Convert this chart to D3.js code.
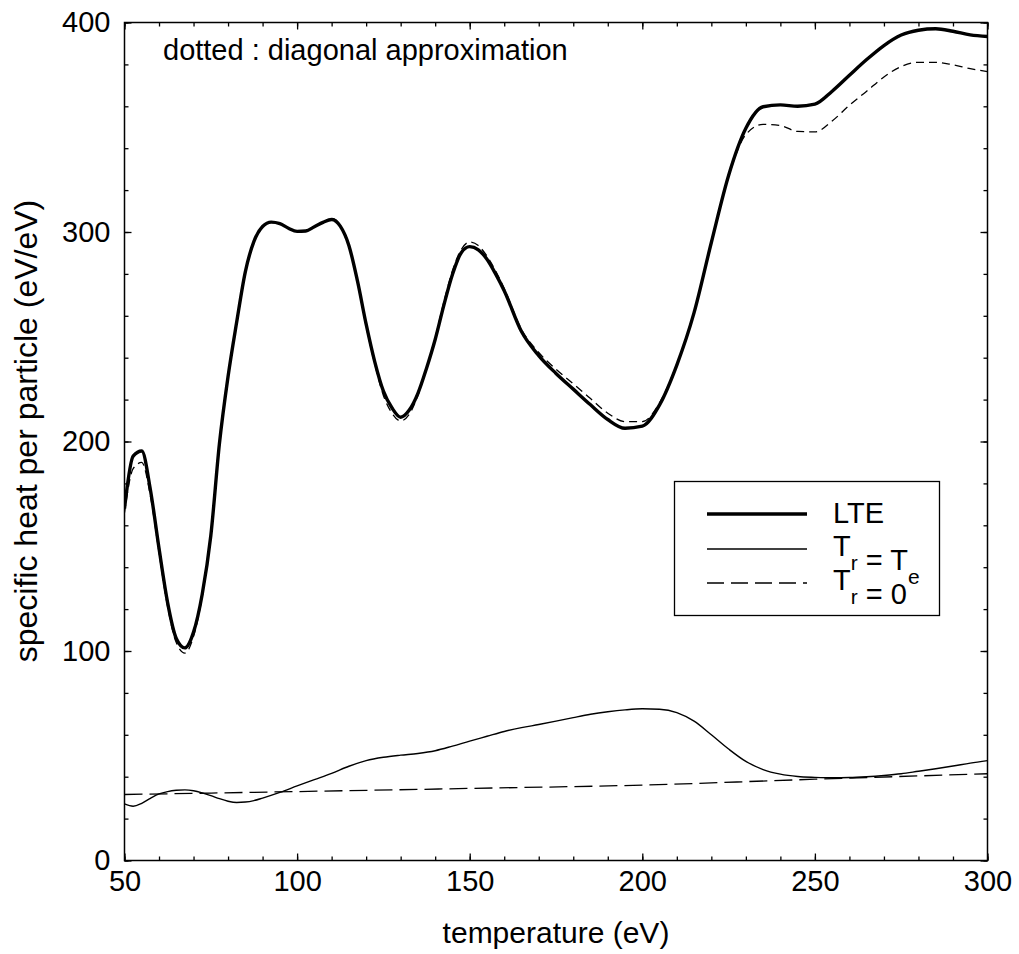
<!DOCTYPE html>
<html><head><meta charset="utf-8">
<script src="https://cdn.jsdelivr.net/npm/d3@7"></script>
<style>
body{margin:0;background:#fff}
text{font-family:"Liberation Sans",Arial,Helvetica,sans-serif;fill:#000}
</style>
</head><body>
<svg id="chart" width="1019" height="954"></svg>
<script>
// ---------- data ----------
const temperature = [50,52.5,55,57.5,60,62.5,65,67.5,70,72.5,75,77.5,80,82.5,85,87.5,90,92.5,95,97.5,
  100,102.5,105,107.5,110,112.5,115,117.5,120,122.5,125,127.5,130,132.5,135,137.5,140,142.5,145,147.5,
  150,152.5,155,157.5,160,165,170,175,180,185,190,195,200,205,210,215,220,225,230,235,240,245,250,255,
  260,265,270,275,280,285,290,295,300];
const lte = [168,193,195.5,177,149,123,106,101.5,109,127,155,199,231,257,281,295.5,302.6,304.7,304,301.8,
  300.3,300.5,302.5,304.6,306,302.8,293.6,276.5,256,238,224,216,211.6,215,223,235,248.7,265,279.7,290,
  293,291.5,287,280,272,252.5,241,232.5,225,217.5,210.5,206.3,207.3,217.5,236.5,261.5,295,327,349.5,359.8,
  360.7,360,361,367.2,374.8,382.3,389,394,396.3,397,395.8,394.1,393.3];
const diagonal = [166,187,190,174,147,121,104,99,107,126,155,199,231,257,281,295.5,302.6,304.7,304,301.8,
  300.3,300.5,302.5,304.6,306.5,303,293.6,276,255,237,222,213.5,209.8,213,222,235,249.5,266.5,281.5,291.5,
  295.2,293.5,288.5,281.5,273,253.5,242.5,234.5,227.5,220.5,213.5,209.5,209.5,218.5,237,262,294.5,326.5,346.5,351.4,
  350.8,348,347.8,353,360.5,367.2,374,379,381,381,379.8,378,376.6];

const temperatureLow = [50,52.5,55,57.5,60,62.5,65,67.5,70,72.5,75,77.5,80,82.5,85,87.5,90,95,100,105,110,115,
  120,125,130,135,140,145,150,155,160,165,170,175,180,185,190,195,200,205,210,215,220,225,230,235,240,245,
  250,255,260,265,270,275,280,285,290,295,300];
const trEqualTe = [27.0,25.9,27.3,29.7,31.8,32.9,33.5,33.7,33.3,32.3,31.0,29.5,28.3,27.7,27.9,28.6,29.8,32.5,35.6,38.6,41.6,45.0,
  47.7,49.3,50.3,51.1,52.4,54.6,57.0,59.3,61.6,63.4,64.9,66.5,68.2,69.8,71.0,71.9,72.4,72.2,70.6,66.5,60.0,53.2,47.3,43.4,41.2,40.1,
  39.7,39.5,39.6,40.0,40.6,41.4,42.6,43.8,45.1,46.5,47.7];

const temperatureZero = [50,100,150,200,250,300];
const trZero = [31.5,32.9,34.4,36.0,38.8,41.4];

const xTicks = [50,100,150,200,250,300];
const xMinor = d3.range(50,301,10);
const yTicks = [0,100,200,300,400];
const yMinor = d3.range(0,401,20);
const legendLabels = ["LTE", "T_r = T_e", "T_r = 0"];

// ---------- layout ----------
const svg = d3.select("#chart");
const W = 1019, H = 954;
const m = {left:124.5, right:987.5, top:22.5, bottom:860.5};
svg.append("rect").attr("width",W).attr("height",H).attr("fill","#fff");

const x = d3.scaleLinear().domain([50,300]).range([m.left,m.right]);
const y = d3.scaleLinear().domain([0,400]).range([m.bottom,m.top]);

const FS = 29;

function styleAxis(g){
  g.select(".domain").remove();
  g.selectAll(".tick line").attr("stroke","#000").attr("stroke-width",1.3);
  g.selectAll("text").style("font-size",FS+"px").attr("fill","#000")
   .style("font-family",'"Liberation Sans",Arial,Helvetica,sans-serif');
}

// bottom
svg.append("g").attr("transform",`translate(0,${m.bottom})`)
  .call(d3.axisBottom(x).tickValues(xMinor).tickSize(-4).tickFormat("")).call(styleAxis);
svg.append("g").attr("transform",`translate(0,${m.bottom})`)
  .call(d3.axisBottom(x).tickValues(xTicks).tickSize(-7).tickPadding(10).tickFormat(d3.format("d"))).call(styleAxis);
// top
svg.append("g").attr("transform",`translate(0,${m.top})`)
  .call(d3.axisTop(x).tickValues(xMinor).tickSize(-4).tickFormat("")).call(styleAxis);
svg.append("g").attr("transform",`translate(0,${m.top})`)
  .call(d3.axisTop(x).tickValues(xTicks).tickSize(-7).tickFormat("")).call(styleAxis);
// left
svg.append("g").attr("transform",`translate(${m.left},0)`)
  .call(d3.axisLeft(y).tickValues(yMinor).tickSize(-4).tickFormat("")).call(styleAxis);
svg.append("g").attr("transform",`translate(${m.left},0)`)
  .call(d3.axisLeft(y).tickValues(yTicks).tickSize(-7).tickPadding(14).tickFormat(d3.format("d"))).call(styleAxis);
// right
svg.append("g").attr("transform",`translate(${m.right},0)`)
  .call(d3.axisRight(y).tickValues(yMinor).tickSize(-4).tickFormat("")).call(styleAxis);
svg.append("g").attr("transform",`translate(${m.right},0)`)
  .call(d3.axisRight(y).tickValues(yTicks).tickSize(-7).tickFormat("")).call(styleAxis);

svg.append("rect").attr("x",m.left).attr("y",m.top)
  .attr("width",m.right-m.left).attr("height",m.bottom-m.top)
  .attr("fill","none").attr("stroke","#000").attr("stroke-width",1.5);

// ---------- lines ----------
svg.append("clipPath").attr("id","clip").append("rect")
  .attr("x",m.left).attr("y",m.top).attr("width",m.right-m.left).attr("height",m.bottom-m.top);
const plot = svg.append("g").attr("clip-path","url(#clip)");

function lineOf(xs, ys, curve){
  return d3.line().x((d,i)=>x(xs[i])).y(d=>y(d)).curve(curve)(ys);
}
plot.append("path").attr("d",lineOf(temperatureZero,trZero,d3.curveMonotoneX))
  .attr("fill","none").attr("stroke","#000").attr("stroke-width",1.3).attr("stroke-dasharray","18,7");
plot.append("path").attr("d",lineOf(temperatureLow,trEqualTe,d3.curveMonotoneX))
  .attr("fill","none").attr("stroke","#000").attr("stroke-width",1.4);
plot.append("path").attr("d",lineOf(temperature,diagonal,d3.curveMonotoneX))
  .attr("fill","none").attr("stroke","#000").attr("stroke-width",1.3).attr("stroke-dasharray","8,5");
plot.append("path").attr("d",lineOf(temperature,lte,d3.curveMonotoneX))
  .attr("fill","none").attr("stroke","#000").attr("stroke-width",3.4).attr("stroke-linejoin","round");

// ---------- annotation ----------
svg.append("text").attr("x",163).attr("y",60).style("font-size",FS+"px")
  .text("dotted : diagonal approximation");

// ---------- legend ----------
const lg = svg.append("g");
lg.append("rect").attr("x",674.5).attr("y",481.5).attr("width",265).attr("height",134)
  .attr("fill","#fff").attr("stroke","#000").attr("stroke-width",1.3);
const legendStyles = [
  {w:3.6, dash:null},
  {w:1.4, dash:null},
  {w:1.3, dash:"17,7"}
];
const rowY = [514, 549, 583];
const baseY = [523, 556, 590];
legendLabels.forEach((lab,i)=>{
  lg.append("line").attr("x1",707).attr("x2",807).attr("y1",rowY[i]).attr("y2",rowY[i])
    .attr("stroke","#000").attr("stroke-width",legendStyles[i].w)
    .attr("stroke-dasharray",legendStyles[i].dash);
  const t = lg.append("text").attr("x",833).attr("y",baseY[i]).style("font-size",FS+"px");
  const parts = lab.split(/(_[a-z])/).filter(s=>s.length);
  parts.forEach(p=>{
    if(p.startsWith("_")){
      t.append("tspan").attr("dy",14).style("font-size","21px").text(p.slice(1));
      t.append("tspan").attr("dy",-14).text("");
    } else {
      t.append("tspan").text(p);
    }
  });
});

// ---------- axis titles ----------
svg.append("text").attr("x",(m.left+m.right)/2).attr("y",943).attr("text-anchor","middle")
  .style("font-size","30px").text("temperature (eV)");
svg.append("text").attr("transform","translate(37,431) rotate(-90)").attr("text-anchor","middle")
  .style("font-size","32px").text("specific heat per particle (eV/eV)");
</script>
</body></html>
